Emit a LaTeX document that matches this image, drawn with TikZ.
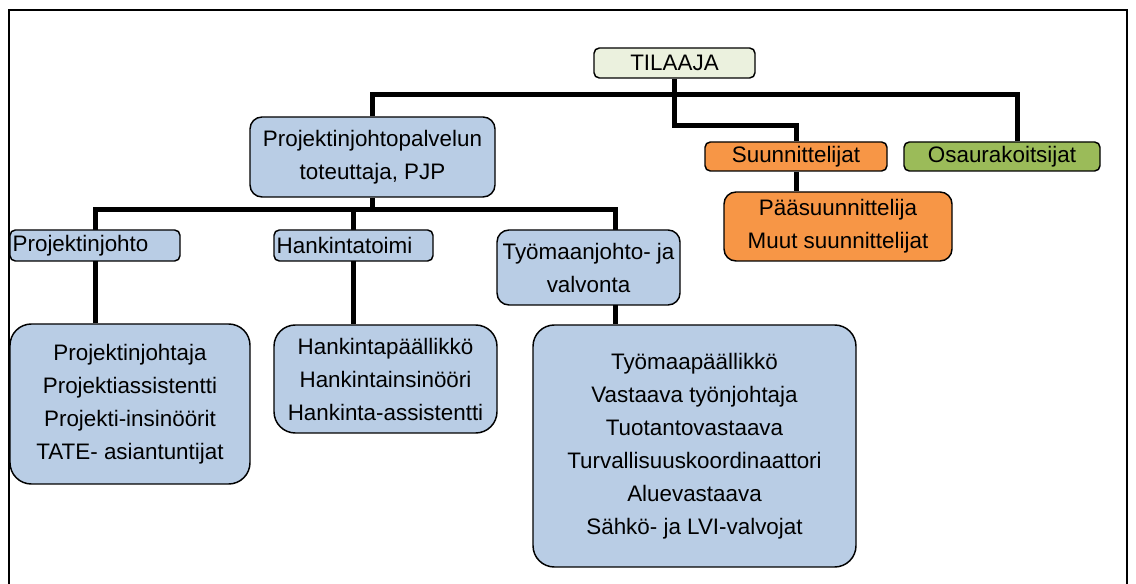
\documentclass[tikz,border=0pt]{standalone}
\usepackage{fontspec}
\setmainfont{Liberation Sans}
\usetikzlibrary{backgrounds}
\definecolor{paleblue}{HTML}{B9CDE5}
\definecolor{orangebox}{HTML}{F79646}
\definecolor{greenbox}{HTML}{9BBB59}
\definecolor{palegreen}{HTML}{EBF1DE}
\tikzset{
  unit/.style={draw, line width=1.1pt, rounded corners=4pt, fill=paleblue,
    inner sep=1pt, font=\fontsize{16.8}{24.75}\selectfont, align=center},
  bigunit/.style={unit, rounded corners=16pt},
  leftunit/.style={unit, align=left, inner xsep=2pt},
  link/.style={line width=3.75pt},
  frame/.style={line width=1.5pt},
}
\begin{document}
\begin{tikzpicture}[x=0.75pt, y=-0.75pt]
\useasboundingbox (0,0) rectangle (1136,584);

% The client and its three parties.
\node[unit, fill=palegreen, minimum width=120.75pt, minimum height=22.5pt] (tilaaja) at (674.5,63) {TILAAJA};
\node[unit, rounded corners=9pt, minimum width=183.75pt, minimum height=60pt] (pjp) at (372.5,157)
  {Projektinjohtopalvelun\\toteuttaja, PJP};
\node[unit, fill=orangebox, minimum width=136.5pt, minimum height=21.75pt] (suun) at (796,156.5) {Suunnittelijat};
\node[unit, fill=greenbox, minimum width=147pt, minimum height=21.75pt] (osa) at (1002,156.5) {Osaurakoitsijat};
\node[unit, fill=orangebox, rounded corners=9pt, minimum width=171pt, minimum height=51.75pt] (paas) at (838,226.5)
  {Pääsuunnittelija\\Muut suunnittelijat};

% The three branches of the PJP.
\node[leftunit, text width=123.5pt, minimum height=23.25pt] (pjohto) at (95,245.5) {Projektinjohto};
\node[leftunit, text width=115.25pt, minimum height=23.25pt] (hankinta) at (353.5,245.5) {Hankintatoimi};
\node[unit, rounded corners=9pt, minimum width=137.25pt, minimum height=56.25pt] (tyonjohto) at (588.5,267.5)
  {Työmaanjohto- ja\\valvonta};

% The people in each branch.
\node[bigunit, minimum width=180pt, minimum height=120pt] (pjbox) at (130,404)
  {Projektinjohtaja\\Projektiassistentti\\Projekti-insinöörit\\TATE- asiantuntijat};
\node[bigunit, minimum width=167.25pt, minimum height=81pt] (hbox) at (385.5,379)
  {Hankintapäällikkö\\Hankintainsinööri\\Hankinta-assistentti};
\node[bigunit, minimum width=242.25pt, minimum height=181.5pt] (tbox) at (694.5,446)
  {Työmaapäällikkö\\Vastaava työnjohtaja\\Tuotantovastaava\\Turvallisuuskoordinaattori\\Aluevastaava\\Sähkö- ja LVI-valvojat};

\coordinate (topbus) at (0,95);
\coordinate (suunbend) at (0,126);
\coordinate (pjpbus) at (0,210);
\coordinate (osadrop) at (1017,95);
\coordinate (tyodrop) at (615,210);

\begin{scope}[on background layer]
\draw[link] (tilaaja.south) -- (tilaaja.south |- suunbend) -| (suun.north);
\draw[link] (pjp.north) -- (pjp.north |- topbus) -- (osadrop) -- (osadrop |- osa.north);
\draw[link] (suun.south) -- (suun.south |- paas.north);
\draw[link] (pjp.south) -- (pjp.south |- pjpbus);
\draw[link] (pjohto.north |- pjbox.north) -- (pjohto.north |- pjpbus) -- (tyodrop) -- (tyodrop |- tbox.north);
\draw[link] (hankinta.north |- pjpbus) -- (hankinta.north |- hbox.north);
\end{scope}

\draw[frame] (9,584) -- (9,10) -- (1127,10) -- (1127,584);

\end{tikzpicture}
\end{document}
